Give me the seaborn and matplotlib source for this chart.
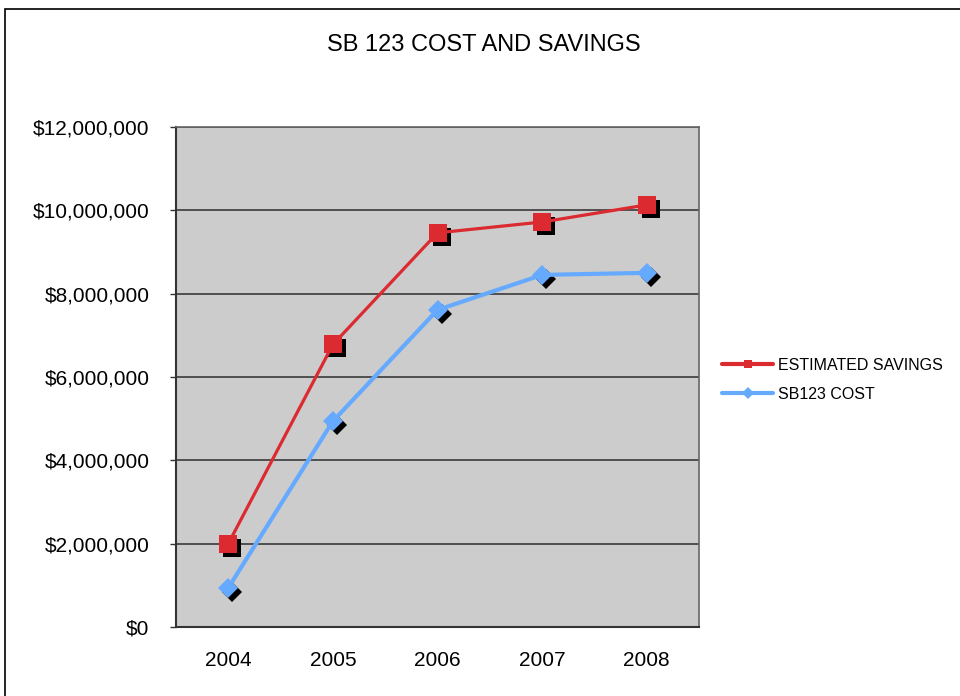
import pandas as pd
import numpy as np
import matplotlib.pyplot as plt
import matplotlib.transforms as mtransforms
from matplotlib.patches import Rectangle
from matplotlib.ticker import FuncFormatter, FixedLocator
import seaborn as sns

years = ['2004', '2005', '2006', '2007', '2008']
savings = [2000000, 6780000, 9460000, 9720000, 10130000]
cost = [940000, 4940000, 7610000, 8450000, 8500000]
series_names = ['ESTIMATED SAVINGS', 'SB123 COST']
colors = {'ESTIMATED SAVINGS': '#DC2A31', 'SB123 COST': '#66AAFF'}
marker_styles = {'ESTIMATED SAVINGS': 's', 'SB123 COST': 'D'}

df = pd.DataFrame({
    'Year': years * 2,
    'Value': savings + cost,
    'Series': [series_names[0]] * len(years) + [series_names[1]] * len(years),
})

sns.set_theme(style='white')
plt.rcParams['font.family'] = ['Liberation Sans', 'DejaVu Sans']
plt.rcParams['text.color'] = 'black'
plt.rcParams['xtick.color'] = 'black'
plt.rcParams['ytick.color'] = 'black'

fig = plt.figure(figsize=(9.6, 6.96), dpi=100)
ax = fig.add_axes([176 / 960, 69 / 696, 523 / 960, 500 / 696])
ax.set_facecolor('#CCCCCC')

# black drop shadow under the markers
shadow = ax.transData + mtransforms.ScaledTranslation(4 / 100, -4 / 100, fig.dpi_scale_trans)
for name, vals, ms in [(series_names[0], savings, 13.5), (series_names[1], cost, 10.5)]:
    ax.plot(range(len(years)), vals, linestyle='none', marker=marker_styles[name],
            markersize=ms, color='black', markeredgewidth=0, transform=shadow, zorder=3)

sns.lineplot(data=df, x='Year', y='Value', hue='Series', style='Series',
             palette=colors, markers=marker_styles, dashes=False,
             markeredgewidth=0, ax=ax, zorder=4, legend=True)

for line, lw, ms in zip(ax.lines[2:4], [2.3, 3.0], [13.5, 10.5]):
    line.set_linewidth(lw)
    line.set_markersize(ms)

handles, labels = ax.get_legend_handles_labels()
ax.get_legend().remove()
for h in handles:
    h.set_linewidth(3)
    h.set_markersize(6)
fig.legend(handles, labels, loc='upper left', bbox_to_anchor=(722 / 960, 1 - 358 / 696),
           frameon=False, fontsize=11.5, handlelength=3.2, handletextpad=0.3,
           labelspacing=0.85, borderpad=0, borderaxespad=0)

ax.set_xlim(-0.5, len(years) - 0.5)
ax.set_ylim(0, 12000000)
ax.set_yticks(np.arange(0, 12000001, 2000000))
ax.yaxis.set_major_formatter(FuncFormatter(lambda v, p: f'${v:,.0f}'))
ax.yaxis.grid(True, color='#3a3a3a', linewidth=1.2)
ax.set_axisbelow(True)

ax.xaxis.set_minor_locator(FixedLocator(np.arange(-0.5, len(years), 1)))
ax.tick_params(axis='x', which='major', length=0, pad=17, labelsize=15)
ax.tick_params(axis='x', which='minor', length=6, width=1, color='#333333', direction='out')
ax.tick_params(axis='y', which='major', length=4, width=1, color='#333333', pad=15,
               labelsize=15, left=True)
ax.set_xlabel('')
ax.set_ylabel('')

for side in ['left', 'bottom']:
    ax.spines[side].set_color('#333333')
    ax.spines[side].set_linewidth(1.5)
for side in ['top', 'right']:
    ax.spines[side].set_color('#666666')
    ax.spines[side].set_linewidth(1.2)

fig.text(484 / 960, 1 - 45 / 696, 'SB 123 COST AND SAVINGS', ha='center', va='center',
         fontsize=17, color='black')

# outer chart frame
fig.patches.append(Rectangle((5 / 960, -0.1), 1.2, 1 - 9 / 696 + 0.1, transform=fig.transFigure,
                             fill=False, edgecolor='black', linewidth=1.2))

fig.savefig('out.png', dpi=100)
